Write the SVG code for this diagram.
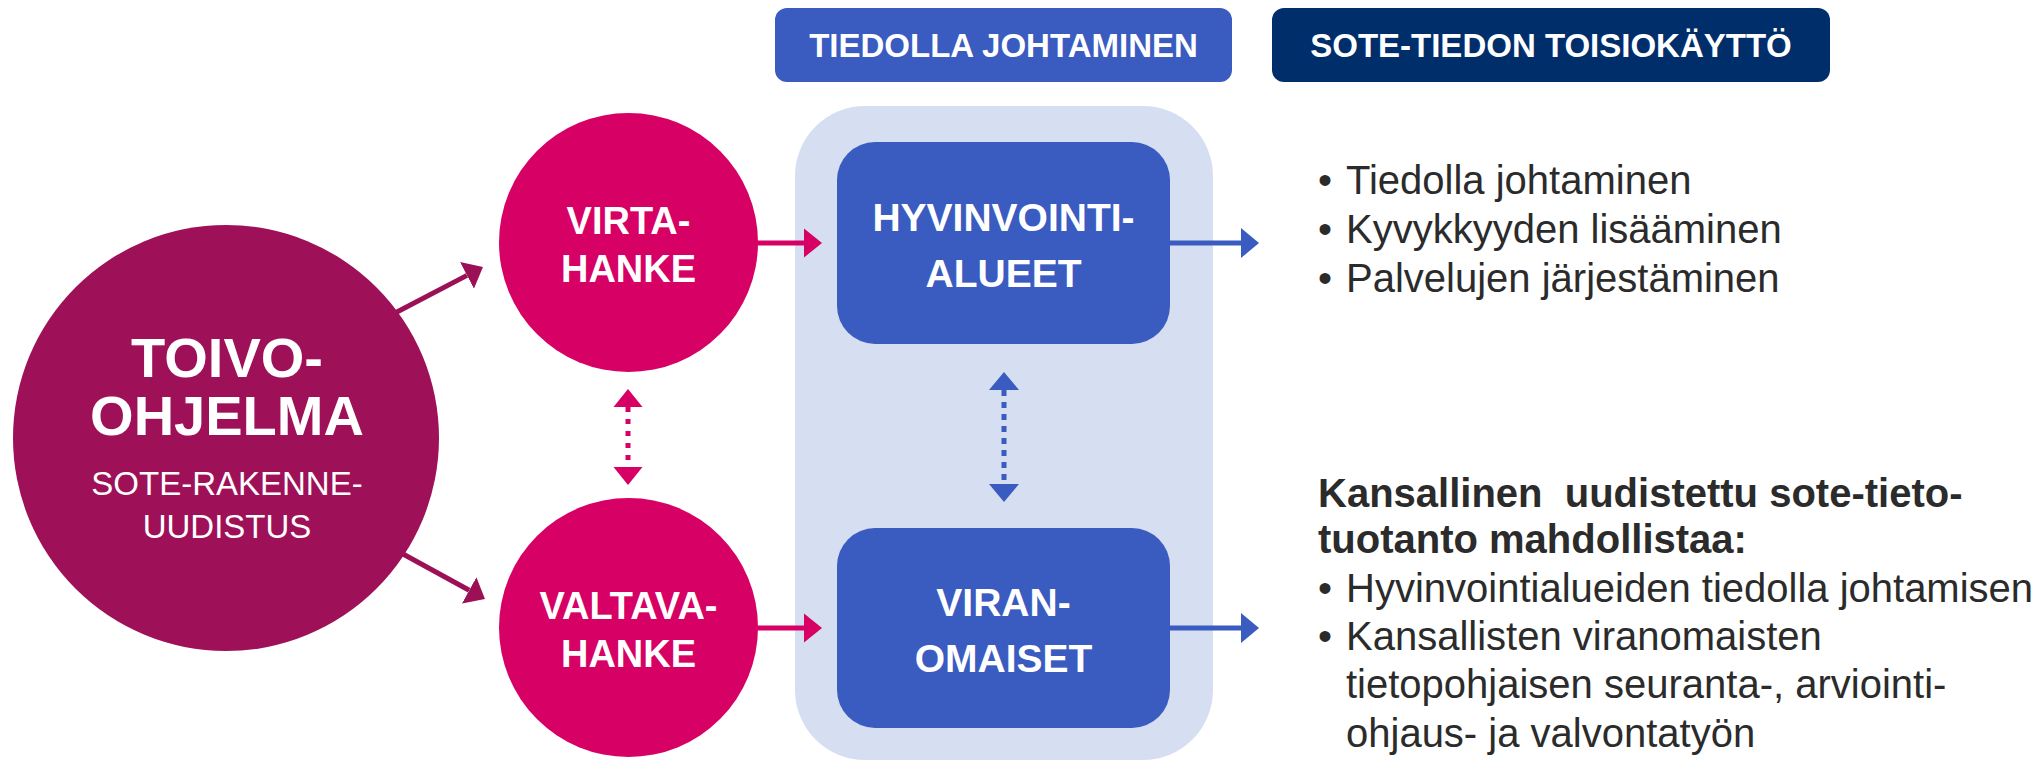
<svg xmlns="http://www.w3.org/2000/svg" width="2042" height="761" viewBox="0 0 2042 761">
<style>
text{font-family:"Liberation Sans",Arial,sans-serif}
.w{fill:#ffffff}
.b{font-weight:bold}
.ctr{text-anchor:middle}
.body{fill:#2b2b2b;font-size:40px}
.pk{fill:#D70064}
.bl{fill:#3A5BBF}
.pl{stroke:#D70064;stroke-width:5;fill:none}
.blu{stroke:#3A5BBF;stroke-width:5;fill:none}
.pu{stroke:#9C1156;stroke-width:5;fill:none}
</style>
<defs>
<marker id="hp" markerUnits="userSpaceOnUse" markerWidth="18" markerHeight="30" refX="0" refY="15" orient="auto-start-reverse" viewBox="0 0 18 30"><path d="M0,0.5 L18,15 L0,29.5 Z" fill="#D70064"/></marker>
<marker id="hb" markerUnits="userSpaceOnUse" markerWidth="18" markerHeight="30" refX="0" refY="15" orient="auto-start-reverse" viewBox="0 0 18 30"><path d="M0,0 L18,15 L0,30 Z" fill="#3A5BBF"/></marker>
<marker id="hu" markerUnits="userSpaceOnUse" markerWidth="18" markerHeight="30" refX="0" refY="15" orient="auto" viewBox="0 0 18 30"><path d="M0,0 L18,15 L0,30 Z" fill="#9C1156"/></marker>
</defs>

<g id="panel">
<rect x="795" y="106" width="418" height="654" rx="70" fill="#D6DFF1"/>
</g>

<g id="header-tiedolla">
<rect x="775" y="8" width="457" height="74" rx="12" fill="#3A5BBF"/>
<text x="1003.5" y="57" class="w b ctr" font-size="33">TIEDOLLA JOHTAMINEN</text>
</g>
<g id="header-sote">
<rect x="1272" y="8" width="558" height="74" rx="12" fill="#002E6B"/>
<text x="1551" y="57" class="w b ctr" font-size="33">SOTE-TIEDON TOISIOKÄYTTÖ</text>
</g>

<g id="connectors">
<line x1="395" y1="313" x2="467" y2="275.4" class="pu" marker-end="url(#hu)"/>
<line x1="403" y1="554" x2="469.2" y2="590.3" class="pu" marker-end="url(#hu)"/>
<line x1="756" y1="243" x2="804" y2="243" class="pl" marker-end="url(#hp)"/>
<line x1="756" y1="628" x2="804" y2="628" class="pl" marker-end="url(#hp)"/>
<line x1="628" y1="407" x2="628" y2="467" class="pl" stroke-dasharray="5 7" marker-start="url(#hp)" marker-end="url(#hp)"/>
<line x1="1004" y1="390" x2="1004" y2="484" class="blu" stroke-dasharray="6 6" marker-start="url(#hb)" marker-end="url(#hb)"/>
<line x1="1168" y1="243" x2="1241" y2="243" class="blu" marker-end="url(#hb)"/>
<line x1="1168" y1="628" x2="1241" y2="628" class="blu" marker-end="url(#hb)"/>
</g>

<g id="toivo">
<circle cx="226" cy="438" r="213" fill="#9E1057"/>
<text x="227" y="377" class="w b ctr" font-size="56">TOIVO-</text>
<text x="227" y="435" class="w b ctr" font-size="56">OHJELMA</text>
<text x="227" y="495" class="w ctr" font-size="33">SOTE-RAKENNE-</text>
<text x="227" y="538" class="w ctr" font-size="33">UUDISTUS</text>
</g>

<g id="virta">
<circle cx="628.5" cy="242.5" r="129.5" class="pk"/>
<text x="628.5" y="234" class="w b ctr" font-size="38">VIRTA-</text>
<text x="628.5" y="282" class="w b ctr" font-size="38">HANKE</text>
</g>

<g id="valtava">
<circle cx="628.5" cy="627.5" r="129.5" class="pk"/>
<text x="628.5" y="619" class="w b ctr" font-size="38">VALTAVA-</text>
<text x="628.5" y="667" class="w b ctr" font-size="38">HANKE</text>
</g>

<g id="hyvinvointialueet">
<rect x="837" y="142" width="333" height="202" rx="38" class="bl"/>
<text x="1003.5" y="231" class="w b ctr" font-size="39">HYVINVOINTI-</text>
<text x="1003.5" y="287" class="w b ctr" font-size="39">ALUEET</text>
</g>

<g id="viranomaiset">
<rect x="837" y="528" width="333" height="200" rx="38" class="bl"/>
<text x="1003.5" y="616" class="w b ctr" font-size="39">VIRAN-</text>
<text x="1003.5" y="672" class="w b ctr" font-size="39">OMAISET</text>
</g>

<g id="list-top">
<text x="1318" y="194" class="body">•</text><text x="1346" y="194" class="body">Tiedolla johtaminen</text>
<text x="1318" y="243" class="body">•</text><text x="1346" y="243" class="body">Kyvykkyyden lisääminen</text>
<text x="1318" y="292" class="body">•</text><text x="1346" y="292" class="body">Palvelujen järjestäminen</text>
</g>

<g id="list-bottom">
<text x="1318" y="507" class="body b" xml:space="preserve">Kansallinen  uudistettu sote-tieto-</text>
<text x="1318" y="553" class="body b">tuotanto mahdollistaa:</text>
<text x="1318" y="602" class="body">•</text><text x="1346" y="602" class="body">Hyvinvointialueiden tiedolla johtamisen</text>
<text x="1318" y="650" class="body">•</text><text x="1346" y="650" class="body">Kansallisten viranomaisten</text>
<text x="1346" y="698" class="body">tietopohjaisen seuranta-, arviointi-</text>
<text x="1346" y="747" class="body">ohjaus- ja valvontatyön</text>
</g>
</svg>
